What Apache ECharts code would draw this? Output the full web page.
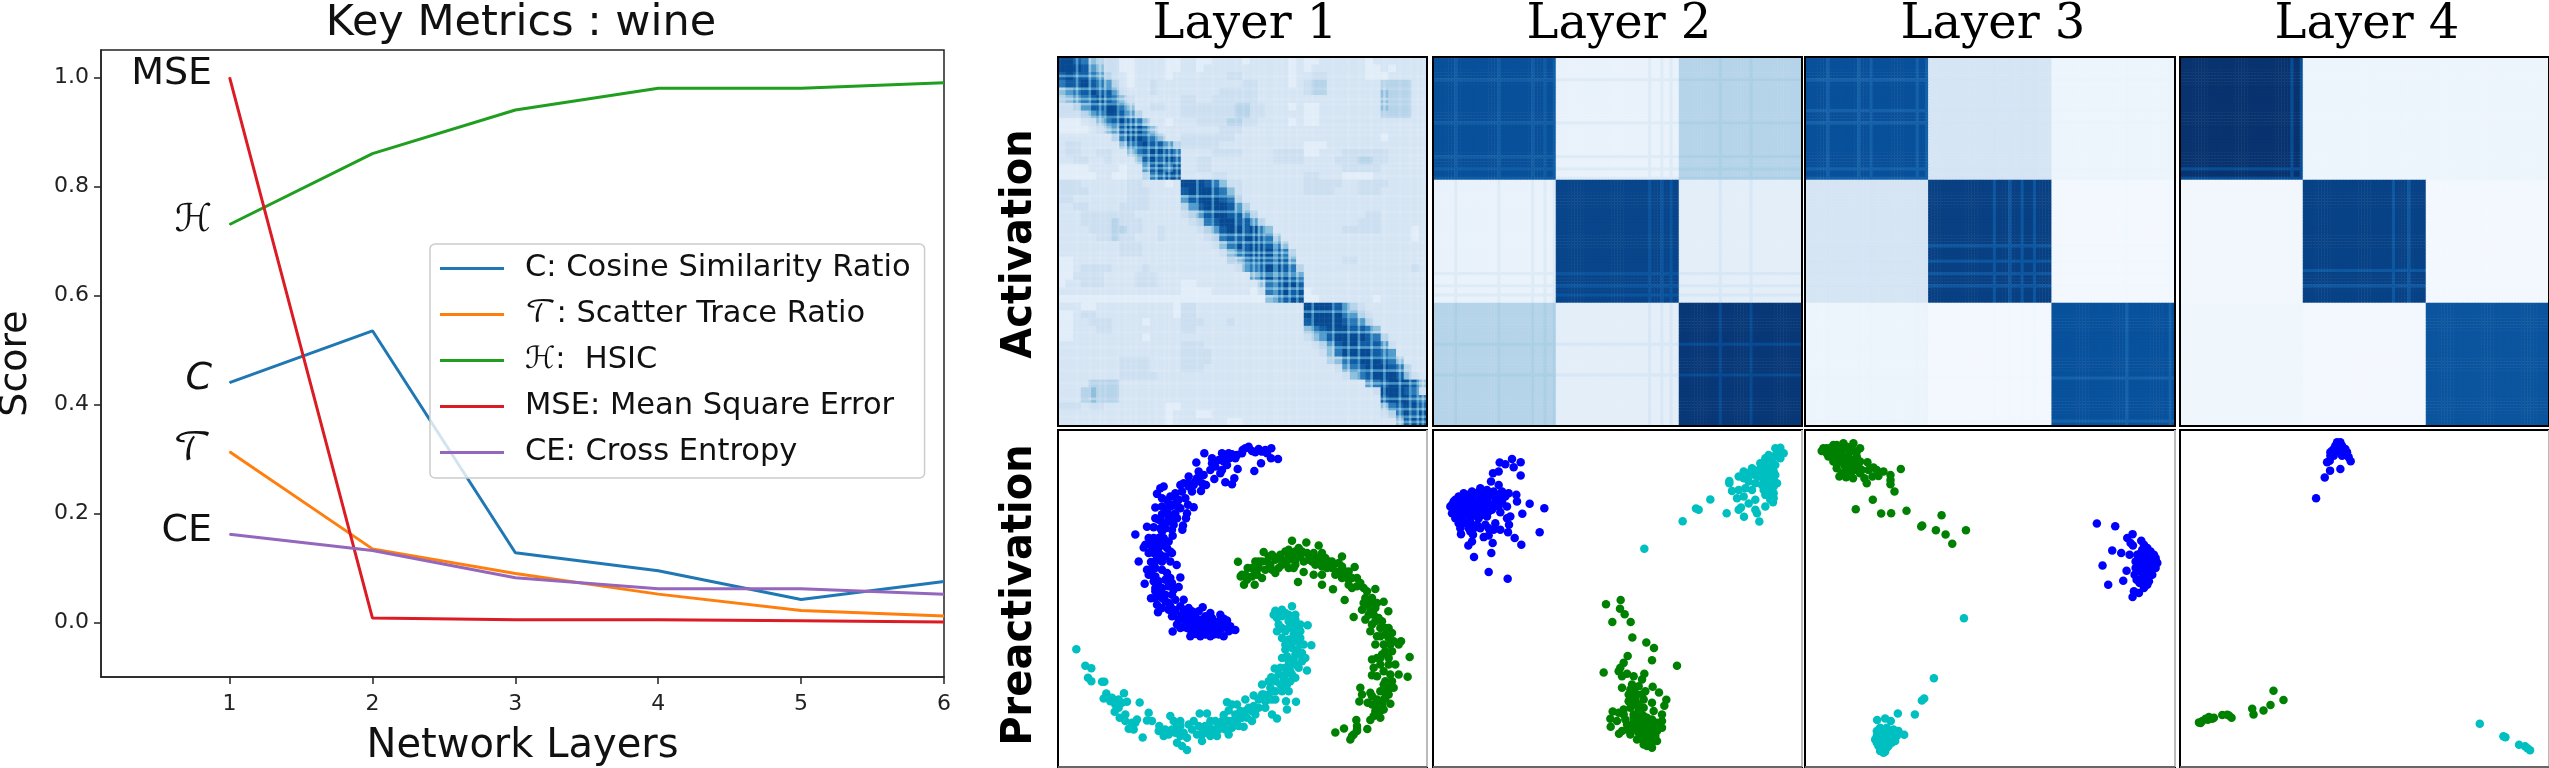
<!DOCTYPE html>
<html lang="en">
  <head>
    <meta charset="UTF-8" />
    <title>Key Metrics : wine</title>
    <script src="https://cdn.jsdelivr.net/npm/echarts@6/dist/echarts.min.js"></script>
    <style>
      html, body { margin: 0; padding: 0; background: #fff; }
      #chart { width: 2549px; height: 768px; }
    </style>
  </head>
  <body>
    <div id="chart"></div>
    <script>
      // left plot: score per network layer
      var layers = [1, 2, 3, 4, 5, 6];
      var cosineRatio = [0.44, 0.535, 0.128, 0.095, 0.042, 0.075];
      var scatterRatio = [0.313, 0.135, 0.09, 0.052, 0.022, 0.012];
      var hsic = [0.73, 0.86, 0.94, 0.98, 0.98, 0.99];
      var mse = [1.0, 0.008, 0.005, 0.005, 0.003, 0.001];
      var crossEntropy = [0.162, 0.132, 0.082, 0.062, 0.062, 0.052];
      var scoreTicks = [0, 0.2, 0.4, 0.6, 0.8, 1.0];
      var columnTitles = ['Layer 1', 'Layer 2', 'Layer 3', 'Layer 4'];

      // layer 1 kernel, read by eye on a 48 x 48 grid, one digit per cell (see levelValues)
      var levelValues = [0.04, 0.11, 0.17, 0.22, 0.3, 0.42, 0.58, 0.72, 0.83, 0.9];
      var layer1Rows = [
        '9987543311222211 2211222212222212 1122222212222222',
        '9998653311222211 2212222222222212 1222222211212222',
        '8988764321222212 2222223322222212 2332222211122222',
        '7889876421223222 2222222233222212 3442222222444422',
        '5678988632223222 2222233333222222 3442222222544422',
        '4567898753222222 3322333333222222 2222222222544422',
        '3346889975223322 3333333443322212 1122222222544422',
        '3334679986422222 3333333443322222 1122222222444422',
        '1112357898752212 2233334433222212 1122222222222222',
        '1111235689975222 2222233322222222 2222222222222222',
        '2222222479987522 3333333222222222 2222222222122222',
        '2332222257898864 3333322222222222 1112222222222222',
        '2332233225789987 2222333322223333 1122233333322222',
        '2233223222589898 2233222222223333 2222333443322222',
        '1111222212268979 2233222222222222 2222233333222222',
        '1111122112247899 2222332222222222 3322211112222222',
        '3332222223322212 9998753322222222 3333322333322222',
        '3333222223332222 8999875322222222 3333222333222222',
        '3322222223332222 6899987422222222 2222222222222222',
        '2233222233332222 4689998642222222 2222222222222222',
        '2223333333222222 3468998864222222 2222222233222222',
        '2223333433322222 2347899886422222 2222222333222222',
        '2222333443322322 2234689989752222 2222233333222212',
        '2222233433222322 2223478899875222 2222222222222212',
        '2222222233322222 2222357989987522 2222222222222222',
        '2222222233322222 2222235789998742 2222222222222222',
        '1122222222222222 2222224578989862 2222233222222222',
        '1123333222232222 2222222367899874 2222222222222232',
        '1133332222333222 2222222226899987 2222222222222222',
        '1223332222333222 1122222222578998 2222222222222222',
        '2222222222222222 1111222221378989 1222222222222222',
        '1111111111111111 1111111111157899 1122222221222222',
        '2221122222222221 3322222222222222 9999864322222222',
        '1123322222222221 3322222222222222 9999976432222222',
        '1122333222212222 3332223222222222 8999987642222222',
        '1122233222222222 3322222222222222 5789998875222222',
        '1122222222212222 2222222222222222 3568999987422222',
        '2222222222222222 3332222222222222 2346899888632222',
        '2222222222222222 3333222222222222 2235799998762222',
        '2222222233332222 3333222222222222 2224578999875222',
        '2222222233332222 3332222222222222 2222367899987422',
        '2222222233333222 2222222222222222 2222235789998532',
        '2222444422222222 2222222222222222 2222222267899985',
        '2224544422222222 2222222222222222 2222222223999873',
        '2224544422222222 2222222222222222 2222222222899987',
        '3332332222222211 2222222222222222 2222222222578998',
        '2222222222222212 2211222222222222 2222222222347989',
        '2222222222222212 2222221122222222 2222222222225899'
      ];
      // pale rows/columns of layer 1 on a 144-cell scale, they give the chequered diagonal
      var layer1Streaks = [7, 12, 16, 18, 23, 26, 28, 30, 35, 38, 41, 43, 46, 54, 60, 69, 72, 76, 78, 80, 84, 85, 87, 90, 93, 99, 107, 113, 117, 122, 127, 133, 137, 140, 142];
      var layer1StreakFade = [0.7, 0.9]; // dark cell, pale cell

      // layers 2-4 kernels: 3 x 3 block levels, plus the rows/columns that show as thin stripes
      var layer2Blocks = [[0.88, 0.07, 0.3], [0.07, 0.92, 0.1], [0.3, 0.1, 0.97]];
      var layer3Blocks = [[0.88, 0.17, 0.05], [0.17, 0.94, 0.02], [0.05, 0.02, 0.875]];
      var layer4Blocks = [[0.99, 0.05, 0.05], [0.03, 0.93, 0.02], [0.04, 0.02, 0.86]];
      var layer2Stripes = [7, 21, 32, 36, 39, 70, 74, 77, 93, 103];
      var layer3Stripes = [7, 17, 21, 36, 39, 61, 66, 70, 74, 104, 118];
      var layer4Stripes = [36, 39, 69, 74];
      var layer2StripeMix = [0.22, 0.1]; // dark block, light block
      var layer3StripeMix = [0.3, 0.02];
      var layer4StripeMix = [0.3, 0];
      var stripeTone = 0.65;

      // activations, in px of the zoomed panel crops
      var blue1 = [[668,92],[647,90],[648,60],[620,70],[600,72],[580,55],[562,65],[545,80],[530,78],[500,75],[522,90],[515,110],[490,95],[470,105],[447,75],[423,103],[547,122],[597,128],[617,105],[500,125],[480,115],[495,135],[477,152],[510,162],[537,150],[530,168],[435,140],[425,150],[400,145],[440,165],[452,170],[415,170],[375,170],[385,165],[437,188],[410,190],[390,210],[325,175],[315,180],[305,197],[320,210],[345,205],[363,212],[337,218],[368,235],[375,240],[300,238],[415,237],[398,230],[395,255],[392,270],[320,258],[335,250],[350,262],[300,270],[360,255],[330,285],[355,290],[383,292],[381,305],[275,296],[295,297],[315,300],[320,310],[240,319],[350,305],[352,323],[340,340],[280,330],[295,330],[265,358],[285,350],[300,345],[320,350],[345,370],[350,375],[280,375],[295,375],[315,380],[320,400],[250,400],[287,402],[345,400],[364,411],[300,420],[285,425],[320,425],[280,440],[300,445],[335,435],[375,448],[330,455],[268,467],[305,475],[370,477],[320,480],[340,475],[355,485],[300,490],[287,511],[320,510],[350,500],[305,530],[330,520],[360,515],[385,515],[300,510],[308,553],[345,535],[375,535],[400,540],[442,538],[355,560],[380,560],[420,560],[465,555],[370,575],[400,570],[440,575],[470,570],[505,572],[385,597],[410,585],[430,590],[450,590],[480,590],[510,590],[525,595],[352,611],[405,605],[420,618],[445,605],[470,605],[490,605],[505,625],[540,606],[520,610],[450,620],[475,620],[395,590],[415,600],[435,605],[460,590],[355,545],[395,555],[380,575],[395,600],[425,575],[455,580],[490,580],[500,600],[420,600],[440,600],[460,610],[410,570],[360,550],[340,545],[330,500],[315,495],[310,460],[295,460],[300,400],[305,390],[330,385],[335,360],[310,360],[290,355],[325,330],[320,280],[345,280],[335,240],[355,230],[370,215],[400,175],[420,160],[430,130],[480,100],[505,100],[520,75],[560,75],[590,68],[630,65],[470,90],[350,565],[365,590],[385,545],[410,550],[430,550],[450,565],[470,585],[495,560],[515,578],[530,605],[490,620],[465,625],[435,625],[405,625],[375,600],[340,525],[320,540],[300,480],[290,440],[275,425],[345,450],[350,465],[270,350],[310,330],[330,300],[310,275],[340,265],[365,270],[320,235],[345,235],[360,195],[380,190],[400,165],[445,140],[465,125],[510,95],[540,90],[570,60],[610,62],[635,75]];
      var green1 = [[548,401],[556,445],[566,470],[598,470],[577,420],[590,445],[605,440],[620,450],[600,400],[610,420],[625,372],[635,400],[650,380],[645,410],[660,435],[670,420],[675,380],[690,370],[700,385],[690,405],[710,338],[720,370],[730,360],[753,343],[735,385],[715,420],[720,395],[700,420],[728,462],[745,432],[765,385],[770,400],[790,352],[800,375],[780,410],[790,400],[810,390],[800,415],[775,440],[800,440],[800,470],[820,400],[835,410],[840,440],[860,385],[850,405],[860,415],[833,484],[860,450],[870,430],[880,430],[898,417],[880,470],[868,516],[890,480],[905,450],[915,465],[925,480],[935,490],[895,567],[920,545],[930,530],[960,483],[950,510],[965,525],[985,521],[999,550],[945,545],[930,575],[955,560],[970,570],[945,610],[975,600],[990,600],[1010,615],[960,650],[985,650],[1000,630],[1037,640],[1030,650],[1063,687],[950,695],[980,680],[1010,670],[1020,710],[1030,740],[1057,747],[950,742],[965,745],[985,730],[990,760],[1000,770],[1015,780],[915,780],[920,800],[945,795],[990,790],[965,815],[1000,800],[912,821],[937,825],[965,835],[1005,828],[960,850],[985,845],[975,870],[945,877],[903,877],[936,904],[905,905],[895,920],[866,902],[840,914],[885,935],[890,925],[905,910],[755,375],[775,395],[815,405],[660,395],[700,395],[620,400],[640,385],[665,390],[680,395],[710,380],[700,365],[760,395],[785,390],[800,400],[830,400],[850,430],[890,450],[930,510],[945,525],[960,540],[980,580],[950,590],[965,625],[990,620],[1005,650],[975,690],[1000,690],[1000,710],[965,690],[985,770],[975,790],[985,815],[950,830],[975,850],[960,860],[590,420],[600,430],[570,440],[560,440],[575,455],[610,400],[630,425],[650,425],[680,410],[720,410],[740,370],[745,400],[775,375],[815,420],[830,420],[875,450],[905,475],[925,525],[940,560],[960,580],[975,625],[1000,600],[1015,640],[990,670],[955,720],[975,710],[1005,740],[1010,760],[990,810],[1000,785],[950,805],[980,830],[955,865],[905,895]];
      var cyan1 = [[63,664],[90,714],[108,721],[98,750],[108,760],[140,762],[147,762],[153,797],[145,812],[165,820],[206,796],[180,830],[200,825],[215,822],[190,840],[178,852],[253,824],[280,855],[193,870],[210,880],[240,885],[220,903],[235,905],[245,875],[275,878],[290,880],[262,929],[312,895],[320,910],[325,925],[345,865],[355,880],[375,880],[350,905],[370,905],[385,915],[340,920],[365,945],[380,955],[395,967],[415,880],[433,857],[455,857],[410,905],[425,920],[440,940],[450,915],[465,880],[480,880],[490,890],[470,905],[485,925],[500,900],[520,920],[505,862],[520,848],[515,823],[530,830],[545,830],[540,860],[545,880],[565,897],[575,870],[590,880],[555,850],[580,840],[600,860],[570,815],[595,803],[620,770],[610,840],[630,840],[650,860],[665,872],[695,845],[722,822],[692,820],[645,780],[640,800],[660,815],[680,790],[700,790],[675,770],[648,748],[658,722],[670,740],[690,740],[710,740],[720,750],[755,728],[700,715],[720,710],[740,700],[680,690],[750,690],[768,652],[690,665],[710,660],[745,650],[735,630],[680,630],[700,635],[690,610],[720,610],[757,592],[670,590],[665,570],[700,580],[735,590],[660,548],[680,545],[710,535],[690,555],[720,560],[720,680],[705,760],[695,770],[640,815],[625,800],[450,895],[520,880],[670,555],[680,565],[700,600],[725,630],[715,640],[700,650],[695,685],[730,680],[715,695],[700,700],[690,720],[685,755],[660,790],[650,815],[630,820],[590,850],[560,870],[530,880],[510,885],[490,905],[460,895],[445,905],[440,920],[365,890],[360,915],[375,925],[430,895],[720,590],[735,610],[740,675],[655,560],[700,560],[720,575],[680,600],[665,610],[735,650],[715,620],[690,650],[725,665],[745,690],[730,720],[705,730],[675,720],[660,760],[690,775],[640,760],[620,800],[610,815],[595,835],[570,850],[550,895],[530,900],[500,880],[510,905],[480,905],[465,925],[440,900],[400,890],[395,930],[375,895],[330,905],[310,910],[230,885],[210,860],[170,810],[190,815]];
      var blue2 = [[245,92],[271,102],[208,103],[225,108],[250,117],[271,142],[205,130],[188,135],[182,160],[205,170],[150,185],[125,190],[100,195],[85,205],[70,220],[60,235],[65,255],[75,270],[85,285],[100,285],[90,300],[92,318],[120,310],[128,320],[125,340],[114,352],[160,327],[175,322],[187,345],[183,375],[131,387],[175,432],[232,452],[273,350],[253,330],[233,312],[328,312],[342,240],[298,227],[276,257],[258,200],[260,220],[235,195],[215,190],[190,190],[170,190],[150,205],[125,210],[100,215],[80,235],[100,240],[125,235],[150,225],[170,215],[195,215],[215,220],[230,235],[210,252],[185,245],[160,245],[135,255],[110,260],[90,265],[120,280],[145,270],[170,265],[140,290],[165,290],[195,285],[210,305],[190,305],[240,265],[230,270],[236,290],[105,205],[130,195],[85,250],[110,225],[135,220],[65,230],[150,180],[170,185],[115,300],[175,300],[75,215],[90,225],[70,245],[85,235],[95,205],[115,200],[140,195],[160,200],[180,200],[205,200],[225,205],[115,245],[130,245],[145,240],[165,230],[185,230],[205,235],[100,255],[120,265],[140,265],[155,260],[95,275],[110,285],[130,300],[150,300],[75,235],[125,225],[175,250],[110,240]];
      var green2 = [[571,516],[527,529],[569,542],[583,559],[546,582],[601,582],[606,629],[648,644],[671,660],[665,697],[592,684],[740,714],[520,734],[580,705],[570,720],[565,730],[575,745],[590,738],[610,745],[642,738],[635,755],[605,770],[575,780],[600,785],[625,775],[667,777],[645,790],[686,794],[620,800],[595,820],[640,815],[665,825],[708,816],[702,834],[547,851],[565,855],[540,873],[541,897],[580,845],[610,830],[640,840],[670,850],[695,860],[560,880],[585,875],[610,860],[640,865],[665,875],[695,880],[695,900],[566,918],[590,905],[615,890],[640,890],[665,900],[680,910],[600,920],[625,915],[650,915],[675,925],[620,935],[640,940],[665,945],[680,940],[665,960],[640,950],[650,955],[610,905],[625,870],[650,880],[630,860],[610,880],[630,880],[650,890],[670,885],[600,895],[620,905],[640,905],[655,930],[640,925],[625,900],[670,915],[660,935],[650,940],[630,925],[610,870],[625,845],[615,815],[625,830],[600,840],[635,800],[610,790],[650,870],[595,800],[605,810],[680,885],[580,860],[590,890],[575,910]];
      var cyan2 = [[1050,58],[1035,60],[1015,80],[1040,75],[1060,75],[1005,90],[1025,95],[1050,90],[990,105],[1010,110],[1035,110],[965,120],[985,125],[1010,130],[1030,130],[940,130],[960,140],[985,145],[1010,150],[1030,155],[925,145],[955,160],[975,165],[995,170],[1030,175],[897,158],[897,165],[905,188],[925,185],[945,180],[965,185],[1000,185],[1030,195],[920,210],[940,205],[975,215],[1005,200],[1030,210],[932,238],[925,245],[955,226],[1028,222],[1005,235],[975,245],[980,255],[941,266],[987,280],[889,255],[840,214],[797,241],[805,245],[757,279],[642,362],[1045,70],[1020,100],[1000,115],[1040,85],[1030,85],[1020,115],[1005,145],[1020,140],[995,140],[975,140],[1000,160],[1020,165],[1015,180],[1015,195],[1020,215],[950,135],[940,150],[1035,140],[1040,165],[1050,68]];
      var blue3 = [[884,286],[939,294],[991,318],[975,330],[985,345],[992,352],[1017,338],[930,367],[957,375],[982,380],[901,412],[973,428],[997,440],[1003,455],[963,458],[918,470],[995,490],[991,507],[1010,495],[1025,480],[1040,460],[1050,440],[1060,420],[1062,400],[1055,380],[1035,360],[1020,365],[1040,385],[1040,410],[1030,435],[1020,415],[1000,400],[1000,420],[1020,390],[1005,380],[1065,405],[1045,370],[1020,450],[1035,470],[1015,375],[1030,375],[1045,395],[1055,410],[1045,425],[1040,445],[1030,455],[1015,430],[1005,410],[1030,400],[1050,400],[1060,390],[1025,350],[1035,385],[1020,400],[1012,465],[1030,420]];
      var green3 = [[70,68],[85,60],[105,50],[125,45],[155,45],[175,60],[80,85],[100,75],[120,70],[145,70],[165,85],[95,100],[115,95],[140,95],[160,105],[175,100],[105,120],[130,115],[160,125],[180,125],[197,102],[215,118],[113,145],[133,147],[154,150],[188,150],[195,165],[212,145],[230,143],[245,130],[225,125],[297,122],[266,140],[266,155],[266,168],[278,190],[213,215],[162,243],[238,256],[268,255],[314,248],[419,261],[361,292],[358,295],[402,306],[431,319],[492,306],[451,347],[60,68],[90,85],[110,60],[135,55],[75,60],[95,50],[115,55],[130,60],[150,60],[165,70],[75,75],[90,70],[105,85],[125,85],[140,85],[155,95],[105,105],[125,105],[145,110],[120,135],[170,115],[175,135],[200,125],[150,130],[135,130],[65,60]];
      var cyan3 = [[486,571],[396,751],[367,812],[360,818],[288,857],[339,860],[226,877],[250,872],[267,880],[307,921],[290,910],[235,900],[255,900],[275,905],[225,925],[245,925],[270,930],[285,925],[225,945],[245,950],[265,945],[240,965],[250,972],[235,955],[255,960],[275,935],[225,910],[230,915],[250,915],[265,915],[280,915],[235,935],[255,935],[270,945],[220,935],[230,955],[245,940],[260,955],[245,975],[235,970],[280,940],[255,925],[240,910]];
      var blue4 = [[505,130],[495,135],[515,135],[485,150],[500,150],[520,150],[480,165],[530,155],[490,165],[515,165],[535,170],[478,180],[470,185],[541,182],[510,205],[479,210],[463,231],[437,293],[505,145],[525,160],[500,125],[510,125],[490,145],[510,140],[480,155],[525,145],[490,155],[532,165]];
      var green4 = [[85,966],[95,962],[105,955],[115,950],[125,955],[130,952],[90,968],[155,944],[175,945],[183,952],[170,943],[245,925],[249,942],[279,930],[300,914],[309,871],[339,899],[112,958]];
      var cyan4 = [[929,970],[1000,1008],[1006,1011],[1047,1033],[1065,1038],[1072,1044],[1080,1050]];

      var FONT = "'DejaVu Sans', 'DejaVu Math TeX Gyre', sans-serif";
      var metricNames = ['C: Cosine Similarity Ratio', '𝒯: Scatter Trace Ratio', 'ℋ:  HSIC', 'MSE: Mean Square Error', 'CE: Cross Entropy'];
      var metricMarks = ['C', '𝒯', 'ℋ', 'MSE', 'CE'];
      var metricValues = [cosineRatio, scatterRatio, hsic, mse, crossEntropy];
      var metricColors = ['#1f77b4', '#ff7f0e', '#1f9e1f', '#dc1c24', '#9467bd'];

      // panel boxes on the right: [left, width] per column, [top, height] per row
      var columns = [[1058, 369], [1433, 369], [1805, 370], [2180, 369]];
      var heatRow = [57, 369];
      var dotRow = [430, 337];
      var dotExtents = [
        { x: [8, 1115], y: [5, 1018] },
        { x: [8, 1115], y: [5, 1018] },
        { x: [10, 1118], y: [5, 1018] },
        { x: [28, 1137], y: [88, 1100] }
      ];
      var dotSets = [[blue1, green1, cyan1], [blue2, green2, cyan2], [blue3, green3, cyan3], [blue4, green4, cyan4]];
      var dotColors = ['#0000ff', '#008000', '#00bfc0'];

      function layer1Cells() {
        var cells = [];
        for (var r = 0; r < 144; r++) {
          var digits = layer1Rows[Math.floor(r / 3)].replace(/ /g, '');
          for (var c = 0; c < 144; c++) {
            var v = levelValues[+digits[Math.floor(c / 3)]];
            var fade = v > 0.4 ? layer1StreakFade[0] : layer1StreakFade[1];
            if (layer1Streaks.indexOf(r) >= 0) v *= fade;
            if (layer1Streaks.indexOf(c) >= 0) v *= fade;
            cells.push([c, r, v]);
          }
        }
        return cells;
      }

      function blockCells(blocks, stripes, mix) {
        var size = 120;
        var cells = [];
        for (var r = 0; r < size; r++) {
          for (var c = 0; c < size; c++) {
            var v = blocks[Math.floor(r / 40)][Math.floor(c / 40)];
            if (stripes.indexOf(r) >= 0 || stripes.indexOf(c) >= 0) {
              v = v + (stripeTone - v) * (v > 0.5 ? mix[0] : mix[1]);
            }
            cells.push([c, r, v]);
          }
        }
        return cells;
      }

      function indexList(n) {
        var list = [];
        for (var i = 0; i < n; i++) list.push(i);
        return list;
      }

      var chart = echarts.init(document.getElementById('chart'));

      var grids = [{ left: 101, top: 50, width: 843, height: 627 }];
      var xAxes = [
        {
          type: 'value',
          min: 0.1,
          max: 6,
          name: 'Network Layers',
          nameLocation: 'middle',
          nameGap: 50,
          nameTextStyle: { fontFamily: FONT, fontSize: 40, color: '#111' },
          axisLine: { onZero: false, lineStyle: { color: '#222', width: 1.5 } },
          axisTick: { length: 7, lineStyle: { color: '#222', width: 1.5 }, customValues: layers },
          axisLabel: { customValues: layers, fontFamily: FONT, fontSize: 22, color: '#222', margin: 16 },
          splitLine: { show: false }
        }
      ];
      var yAxes = [
        {
          type: 'value',
          min: -0.1,
          max: 1.05,
          name: 'Score',
          nameLocation: 'middle',
          nameGap: 66,
          nameTextStyle: { fontFamily: FONT, fontSize: 38, color: '#111' },
          axisLine: { onZero: false, lineStyle: { color: '#222', width: 1.5 } },
          axisTick: { length: 7, lineStyle: { color: '#222', width: 1.5 }, customValues: scoreTicks },
          axisLabel: {
            customValues: scoreTicks,
            fontFamily: FONT,
            fontSize: 22,
            color: '#222',
            margin: 12,
            formatter: function (v) { return v.toFixed(1); }
          },
          splitLine: { show: false }
        }
      ];

      var series = metricNames.map(function (name, i) {
        return {
          name: name,
          type: 'line',
          xAxisIndex: 0,
          yAxisIndex: 0,
          symbol: 'circle',
          symbolSize: 1,
          showSymbol: true,
          lineStyle: { width: 3, color: metricColors[i] },
          itemStyle: { color: metricColors[i] },
          data: metricValues[i].map(function (v, k) {
            var point = { value: [layers[k], v] };
            if (k === 0) {
              point.label = {
                show: true,
                position: 'left',
                distance: 17,
                offset: [0, -3],
                formatter: metricMarks[i],
                fontFamily: FONT,
                fontSize: 38,
                fontStyle: metricMarks[i] === 'C' ? 'italic' : 'normal',
                color: '#111'
              };
            }
            return point;
          })
        };
      });

      var heatData = [
        { cells: layer1Cells(), size: 144 },
        { cells: blockCells(layer2Blocks, layer2Stripes, layer2StripeMix), size: 120 },
        { cells: blockCells(layer3Blocks, layer3Stripes, layer3StripeMix), size: 120 },
        { cells: blockCells(layer4Blocks, layer4Stripes, layer4StripeMix), size: 120 }
      ];
      var heatSeriesIndex = [];
      var frames = [];

      function addFrame(col, row, shaded) {
        frames.push({
          type: 'rect',
          z: 100,
          silent: true,
          shape: { x: col[0], y: row[0], width: col[1], height: row[1] },
          style: { fill: null, stroke: '#000', lineWidth: 2 }
        });
        if (shaded) {
          // the lower panels have a soft grey right and bottom edge
          frames.push({
            type: 'line',
            z: 101,
            silent: true,
            shape: { x1: col[0] + col[1], y1: row[0], x2: col[0] + col[1], y2: row[0] + row[1] },
            style: { stroke: '#bbb', lineWidth: 2 }
          });
          frames.push({
            type: 'line',
            z: 101,
            silent: true,
            shape: { x1: col[0], y1: row[0] + row[1], x2: col[0] + col[1], y2: row[0] + row[1] },
            style: { stroke: '#666', lineWidth: 2 }
          });
        }
      }

      columns.forEach(function (col, i) {
        // activation kernel
        grids.push({ left: col[0], top: heatRow[0], width: col[1], height: heatRow[1] });
        var labels = indexList(heatData[i].size);
        xAxes.push({ type: 'category', gridIndex: grids.length - 1, data: labels, show: false });
        yAxes.push({ type: 'category', gridIndex: grids.length - 1, data: labels, inverse: true, show: false });
        heatSeriesIndex.push(series.length);
        series.push({
          type: 'heatmap',
          xAxisIndex: xAxes.length - 1,
          yAxisIndex: yAxes.length - 1,
          silent: true,
          progressive: 0,
          data: heatData[i].cells
        });
        addFrame(col, heatRow, false);

        // preactivation dots
        grids.push({ left: col[0], top: dotRow[0], width: col[1], height: dotRow[1] });
        xAxes.push({ type: 'value', gridIndex: grids.length - 1, min: dotExtents[i].x[0], max: dotExtents[i].x[1], show: false });
        yAxes.push({ type: 'value', gridIndex: grids.length - 1, min: dotExtents[i].y[0], max: dotExtents[i].y[1], inverse: true, show: false });
        dotSets[i].forEach(function (points, k) {
          series.push({
            type: 'scatter',
            xAxisIndex: xAxes.length - 1,
            yAxisIndex: yAxes.length - 1,
            symbolSize: 8.5,
            silent: true,
            itemStyle: { color: dotColors[k], opacity: 1 },
            data: points
          });
        });
        addFrame(col, dotRow, true);
      });

      var titles = [
        {
          text: 'Key Metrics : wine',
          left: 521,
          top: 2,
          padding: 0,
          textAlign: 'center',
          textStyle: { fontFamily: FONT, fontSize: 43, fontWeight: 'normal', color: '#111' }
        }
      ];
      var titleCenters = [1245, 1619, 1993, 2367];
      columnTitles.forEach(function (text, i) {
        titles.push({
          text: text,
          left: titleCenters[i],
          top: 2,
          padding: 0,
          textAlign: 'center',
          textStyle: { fontFamily: "'DejaVu Serif', serif", fontSize: 48, fontWeight: 'normal', color: '#000' }
        });
      });

      var rowLabels = [
        { text: 'Activation', y: 244 },
        { text: 'Preactivation', y: 595 }
      ].map(function (item) {
        return {
          type: 'text',
          x: 1020,
          y: item.y,
          rotation: Math.PI / 2,
          scaleY: 1.05,
          silent: true,
          style: {
            text: item.text,
            font: 'bold 40px ' + FONT,
            fill: '#000',
            textAlign: 'center',
            textVerticalAlign: 'middle'
          }
        };
      });

      chart.setOption({
        animation: false,
        backgroundColor: '#fff',
        title: titles,
        legend: {
          orient: 'vertical',
          left: 430,
          top: 244,
          padding: [9, 14, 10, 10],
          icon: 'rect',
          itemWidth: 64,
          itemHeight: 3,
          itemGap: 15,
          selectedMode: false,
          backgroundColor: 'rgba(255,255,255,0.8)',
          borderColor: '#ccc',
          borderWidth: 1.5,
          borderRadius: 5,
          textStyle: { fontFamily: FONT, fontSize: 30.5, color: '#111', padding: [0, 0, 0, 16] },
          data: metricNames
        },
        visualMap: {
          show: false,
          seriesIndex: heatSeriesIndex,
          min: 0,
          max: 1,
          inRange: {
            color: ['#f7fbff', '#deebf7', '#c6dbef', '#9ecae1', '#6baed6', '#4292c6', '#2171b5', '#08519c', '#08306b']
          }
        },
        grid: grids.map(function (g, i) {
          return Object.assign({ show: i === 0, borderColor: '#222', borderWidth: 1.5, outerBoundsMode: 'none' }, g);
        }),
        xAxis: xAxes,
        yAxis: yAxes,
        series: series,
        graphic: frames.concat(rowLabels)
      });
    </script>
  </body>
</html>
